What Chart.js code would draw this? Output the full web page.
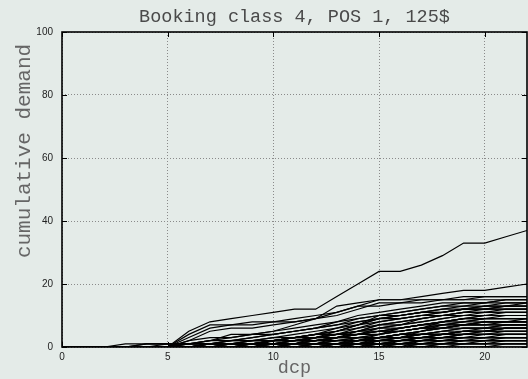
<!DOCTYPE html>
<html>
<head>
<meta charset="utf-8">
<script src="https://cdn.jsdelivr.net/npm/chart.js@4/dist/chart.umd.min.js"></script>
<style>
  html, body { margin: 0; padding: 0; background: #e4ebe8; }
  #c { display: block; }
</style>
</head>
<body>
<canvas id="c" width="528" height="379"></canvas>
<script>
// days-before-departure checkpoints
const dcp = [0,1,2,3,4,5,6,7,8,9,10,11,12,13,14,15,16,17,18,19,20,21,22];
const xTicks = [0, 5, 10, 15, 20];
const yTicks = [0, 20, 40, 60, 80, 100];

// cumulative demand paths, one value per dcp
const s01 = [0,0,0,0,0,0,5,8,9,10,11,12,12,16,20,24,24,26,29,33,33,35,37];
const s02 = [0,0,0,0,0,0,4,7,7,8,8,9,10,11,13,15,15,16,17,18,18,19,20];
const s03 = [0,0,0,0,0,0,3,6,7,7,8,8,9,10,12,14,14,15,15,16,16,16,16];
const s04 = [0,0,0,0,0,0,2,5,6,6,7,8,9,11,13,13,14,14,15,15,15,15,15];
const s05 = [0,0,0,0,0,0,1,2,3,4,5,7,9,13,14,15,15,15,15,15,16,16,16];
const s06 = [0,0,0,0,1,1,1,2,2,3,4,5,6,8,10,11,12,13,14,14,14,14,14];
const s07 = [0,0,0,0,0,1,1,2,4,4,5,6,7,8,9,10,11,12,13,13,13,13,13];
const s08 = [0,0,0,0,0,0,0,1,2,3,4,5,6,7,9,10,10,11,12,12,12,13,13];
const s09 = [0,0,0,0,0,0,0,1,1,2,3,4,5,6,7,8,9,10,11,12,12,12,12];
const s10 = [0,0,0,0,0,0,1,1,2,2,3,3,4,6,8,9,9,10,10,11,11,12,12];
const s11 = [0,0,0,0,0,0,0,0,1,2,2,3,4,5,6,7,8,9,10,11,11,11,11];
const s12 = [0,0,0,0,0,0,0,1,1,1,2,2,3,4,5,7,7,8,9,10,10,11,11];
const s13 = [0,0,0,0,0,0,0,0,0,1,2,3,4,4,5,6,7,8,9,10,10,10,10];
const s14 = [0,0,0,0,0,0,0,0,1,1,1,2,3,4,5,6,6,7,8,9,9,10,10];
const s15 = [0,0,0,0,0,0,0,1,1,2,2,3,3,4,5,5,6,7,8,9,9,9,9];
const s16 = [0,0,0,0,0,0,0,0,0,1,1,2,3,3,4,5,6,7,8,8,9,9,9];
const s17 = [0,0,0,0,0,0,0,0,0,0,1,1,2,3,4,5,6,7,7,8,8,8,8];
const s18 = [0,0,0,0,0,0,0,0,1,1,2,2,2,3,4,4,5,6,7,7,8,8,8];
const s19 = [0,0,0,0,0,0,0,0,0,0,0,1,2,3,4,5,5,6,7,7,7,7,7];
const s20 = [0,0,0,0,0,0,0,0,0,1,1,1,2,2,3,4,5,6,6,7,7,7,7];
const s21 = [0,0,0,0,0,0,0,0,0,0,1,1,1,2,3,3,4,5,6,6,6,6,6];
const s22 = [0,0,0,0,0,0,0,0,0,0,0,1,1,2,2,3,4,4,5,6,6,6,6];
const s23 = [0,0,0,0,0,0,0,0,0,0,0,0,1,1,2,3,3,4,5,5,5,6,6];
const s24 = [0,0,0,0,0,0,0,0,0,0,0,0,0,1,2,3,3,4,4,5,5,5,5];
const s25 = [0,0,0,0,0,0,0,0,0,0,1,1,1,1,2,2,3,4,4,5,5,5,5];
const s26 = [0,0,0,0,0,0,0,0,0,0,0,0,1,1,1,2,3,3,4,4,4,4,4];
const s27 = [0,0,0,0,0,0,0,0,0,0,0,0,0,0,1,2,2,3,4,4,4,4,4];
const s28 = [0,0,0,0,0,0,0,0,0,0,0,0,0,1,1,1,2,3,3,3,4,4,4];
const s29 = [0,0,0,0,0,0,0,0,0,0,0,0,0,0,0,1,2,2,3,3,3,3,3];
const s30 = [0,0,0,0,0,0,0,0,0,0,0,0,1,1,1,1,1,2,2,3,3,3,3];
const s31 = [0,0,0,0,0,0,0,0,0,0,0,0,0,0,1,1,1,2,2,2,3,3,3];
const s32 = [0,0,0,0,0,0,0,0,0,0,0,0,0,0,0,0,1,1,2,2,2,2,2];
const s33 = [0,0,0,0,0,0,0,0,0,0,0,0,0,0,1,1,1,1,1,2,2,2,2];
const s34 = [0,0,0,0,0,0,0,0,0,0,0,0,0,0,0,0,0,1,1,1,2,2,2];
const s35 = [0,0,0,0,0,0,0,0,0,0,0,0,0,0,0,1,1,1,1,1,1,1,1];
const s36 = [0,0,0,0,0,0,0,0,0,0,0,0,0,0,0,0,0,0,1,1,1,1,1];
const s37 = [0,0,0,0,0,0,0,0,0,0,0,0,0,0,0,0,0,0,0,0,0,1,1];
const s38 = [0,0,0,0,0,0,0,0,0,0,0,0,0,0,0,0,0,0,0,0,0,0,0];
const s39 = [0,0,0,0,0,0,0,0,0,0,1,2,3,4,6,8,9,10,11,12,13,13,14];
const s40 = [0,0,0,0,0,0,0,0,0,0,0,0,1,3,5,7,8,9,10,11,12,12,12];
const s41 = [0,0,0,0,0,0,0,0,0,0,0,1,2,3,4,6,7,9,10,10,11,11,11];
const s42 = [0,0,0,0,0,0,0,0,0,0,0,0,0,1,3,4,6,7,8,9,10,10,10];
const s43 = [0,0,0,0,0,0,0,0,0,0,0,0,0,0,1,3,4,5,7,8,9,9,9];
const s44 = [0,0,0,0,0,0,0,0,0,0,0,0,0,1,2,3,4,5,6,7,7,8,8];
const s45 = [0,0,0,0,0,0,0,0,0,0,0,0,0,0,1,2,3,4,5,6,6,7,7];
const s46 = [0,0,0,0,0,0,0,0,0,0,0,0,0,0,0,1,2,3,4,5,5,6,6];
const s47 = [0,0,0,0,0,0,0,0,0,0,0,0,0,0,0,0,1,2,3,4,4,5,5];
const s48 = [0,0,0,0,0,0,0,0,0,0,0,0,0,0,0,0,0,1,2,3,3,4,4];
const s49 = [0,0,0,0,0,0,0,0,0,0,0,0,0,0,0,0,0,0,1,2,2,3,3];
const s50 = [0,0,0,0,0,0,0,0,0,0,0,0,0,0,0,0,0,0,0,1,1,2,2];
const s51 = [0,0,0,0,1,1,1,1,1,1,2,2,2,3,3,3,4,4,4,5,5,5,5];
const s52 = [0,0,0,0,0,0,1,1,1,1,1,2,2,2,2,3,3,3,3,4,4,4,4];
const s53 = [0,0,0,0,0,0,0,0,1,1,1,1,1,2,2,2,2,3,3,3,3,3,3];
const s54 = [0,0,0,0,0,0,0,1,1,1,1,1,1,1,1,2,2,2,2,2,2,2,2];
const s55 = [0,0,0,0,0,0,0,0,0,0,2,3,4,5,7,9,10,11,12,13,14,15,15];
const s56 = [0,0,0,0,0,0,0,0,0,1,2,3,4,5,7,9,10,11,11,12,12,13,13];
const s57 = [0,0,0,0,0,0,0,0,0,0,0,0,0,0,2,4,5,6,8,9,10,10,10];
const s58 = [0,0,0,0,0,0,0,0,0,0,0,0,0,0,0,2,3,5,6,7,8,8,8];
const s59 = [0,0,0,0,0,0,0,1,1,1,2,3,3,4,4,5,5,6,6,7,8,8,9];
const s60 = [0,0,0,0,0,0,0,0,0,0,0,0,0,0,0,0,2,3,4,5,6,7,7];
const s61 = [0,0,0,1,1,1,1,1,2,2,2,2,3,3,3,3,4,4,4,4,5,6,6];
const s62 = [0,0,0,0,0,0,0,0,0,0,0,0,0,0,0,0,0,2,3,4,5,6,6];
const s63 = [0,0,0,0,0,0,2,3,3,4,4,5,6,7,8,9,10,11,11,12,13,14,14];
const s64 = [0,0,0,0,0,0,0,0,0,0,0,1,3,5,7,10,11,12,13,14,14,15,15];

const paths = [s01,s02,s03,s04,s05,s06,s07,s08,s09,s10,s11,s12,s13,s14,s15,s16,
  s17,s18,s19,s20,s21,s22,s23,s24,s25,s26,s27,s28,s29,s30,s31,s32,s33,s34,s35,
  s36,s37,s38,s39,s40,s41,s42,s43,s44,s45,s46,s47,s48,s49,s50,s51,s52,s53,s54,
  s55,s56,s57,s58,s59,s60,s61,s62,s63,s64];

const MONO = '"Liberation Mono", "Courier New", monospace';
const SANS = '"Liberation Sans", Arial, sans-serif';

const datasets = paths.map(p => ({
  data: p.map((v, i) => ({ x: dcp[i], y: v })),
  borderColor: '#000',
  borderWidth: 1.2,
  pointRadius: 0,
  fill: false,
  tension: 0
}));

// page background behind everything
const backdrop = {
  id: 'backdrop',
  beforeDraw(chart) {
    const ctx = chart.ctx;
    ctx.save();
    ctx.fillStyle = '#e4ebe8';
    ctx.fillRect(0, 0, chart.width, chart.height);
    ctx.restore();
  }
};

// framed plot box with inward tick marks, plus title and axis captions
const frame = {
  id: 'frame',
  afterDatasetsDraw(chart) {
    const { ctx, chartArea: a, scales } = chart;
    ctx.save();
    ctx.strokeStyle = '#000';
    ctx.lineWidth = 1.6;
    ctx.strokeRect(a.left, a.top, a.right - a.left, a.bottom - a.top);
    ctx.lineWidth = 1;
    ctx.beginPath();
    xTicks.forEach(t => {
      const px = Math.round(scales.x.getPixelForValue(t)) + 0.5;
      ctx.moveTo(px, a.bottom); ctx.lineTo(px, a.bottom - 5);
      ctx.moveTo(px, a.top); ctx.lineTo(px, a.top + 5);
    });
    yTicks.forEach(t => {
      const py = Math.round(scales.y.getPixelForValue(t)) + 0.5;
      ctx.moveTo(a.left, py); ctx.lineTo(a.left + 5, py);
      ctx.moveTo(a.right, py); ctx.lineTo(a.right - 5, py);
    });
    ctx.stroke();

    const cx = (a.left + a.right) / 2;
    ctx.fillStyle = '#4a4a4a';
    ctx.font = '18.5px ' + MONO;
    ctx.textAlign = 'center';
    ctx.textBaseline = 'alphabetic';
    ctx.fillText('Booking class 4, POS 1, 125$', cx, 22);

    ctx.fillStyle = '#666';
    ctx.fillText('dcp', cx, 373);

    ctx.font = '21px ' + MONO;
    ctx.translate(30, 151);
    ctx.rotate(-Math.PI / 2);
    ctx.fillText('cumulative demand', 0, 0);
    ctx.restore();
  }
};

new Chart(document.getElementById('c'), {
  type: 'line',
  data: { datasets },
  options: {
    responsive: false,
    animation: false,
    devicePixelRatio: 1,
    layout: { padding: { top: 32, right: 1, left: 0, bottom: 0 } },
    plugins: { legend: { display: false }, tooltip: { enabled: false }, title: { display: false } },
    scales: {
      x: {
        type: 'linear',
        min: 0, max: 22,
        afterBuildTicks: s => { s.ticks = xTicks.map(v => ({ value: v })); },
        afterFit: s => { s.height = 32; },
        ticks: { font: { family: SANS, size: 10 }, color: '#222', padding: 4, maxRotation: 0 },
        grid: { color: '#8a8a8a', lineWidth: 1, drawTicks: false },
        border: { display: false, dash: [1, 2] }
      },
      y: {
        type: 'linear',
        min: 0, max: 100,
        afterBuildTicks: s => { s.ticks = yTicks.map(v => ({ value: v })); },
        afterFit: s => { s.width = 62; },
        ticks: { font: { family: SANS, size: 10 }, color: '#222', padding: 9 },
        grid: { color: '#8a8a8a', lineWidth: 1, drawTicks: false },
        border: { display: false, dash: [1, 2] }
      }
    }
  },
  plugins: [backdrop, frame]
});
</script>
</body>
</html>
